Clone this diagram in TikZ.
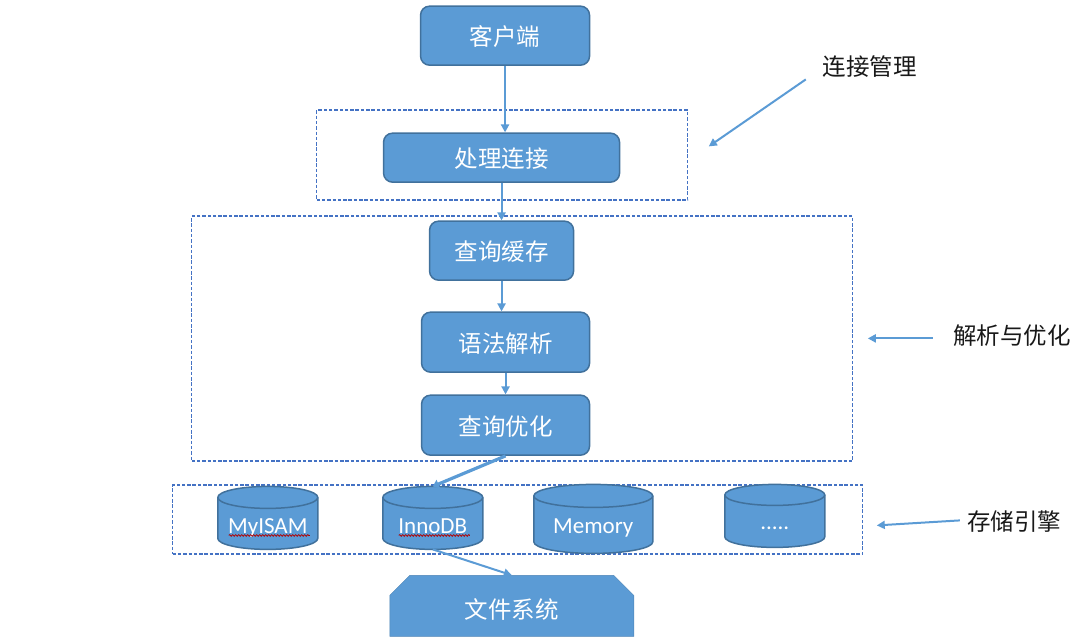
\documentclass[tikz,border=0pt]{standalone}
\usepackage{fontspec}
\setmainfont{Carlito}
\newfontfamily\cjk{Noto Sans CJK SC}
\usetikzlibrary{arrows.meta,shapes.misc,decorations.pathmorphing}
\definecolor{boxfill}{HTML}{5B9BD5}
\definecolor{boxedge}{HTML}{41719C}
\definecolor{dashblue}{HTML}{4472C4}
\tikzset{
  x=1pt,y=-1pt,
  stepbox/.style={rectangle,rounded corners=9pt,draw=boxedge,line width=1.5pt,fill=boxfill,
    text=white,font=\fontsize{23.5}{23.5}\selectfont\cjk,inner sep=0pt,anchor=north west,
    text height=23pt,text depth=3.1pt},
  groupbox/.style={rectangle,draw=dashblue,line width=1.6pt,dash pattern=on 3.5pt off 1.8pt,
    inner sep=0pt,anchor=north west},
  storeshape/.style={draw=boxedge,line width=1.5pt,fill=boxfill},
  storeslot/.style={rectangle,inner sep=0pt,outer sep=0pt,anchor=north},
  storetext/.style={text=white,font=\fontsize{23}{23}\selectfont,inner sep=0pt,anchor=base},
  disk/.style={chamfered rectangle,chamfered rectangle corners={north west,north east},
    chamfered rectangle xsep=10pt,chamfered rectangle ysep=10pt,draw=boxfill!85!black,fill=boxfill,
    text=white,font=\fontsize{23.5}{23.5}\selectfont\cjk,inner sep=0pt,anchor=center,
    minimum width=244pt,minimum height=61pt,text height=27.9pt,text depth=3pt},
  flow/.style={draw=boxfill,line width=2pt,-{Triangle[length=8pt,width=8pt]}},
  heavyflow/.style={flow,line width=3.2pt,-{Triangle[length=6pt,width=9pt]}},
  note/.style={font=\fontsize{23.5}{23.5}\selectfont\cjk,text=black!90,inner sep=0pt},
  squiggle/.style={draw=red!70!black,line width=0.8pt,decorate,
    decoration={snake,segment length=3pt,amplitude=0.8pt}}
}
% #1 name, #2 centre x, #3 top y, #4 width, #5 height, #6 lid half height, #7 text baseline y, #8 text
\newcommand{\storeunit}[8]{%
  \draw[storeshape] ({#2-#4/2},{#3+#6}) -- ++(0,{#5-2*#6})
    arc[start angle=180,end angle=360,x radius={#4/2*1pt},y radius={#6*1pt}]
    -- ++(0,{-(#5-2*#6)})
    arc[start angle=0,end angle=180,x radius={#4/2*1pt},y radius={#6*1pt}] -- cycle;
  \draw[storeshape,fill=none] ({#2-#4/2},{#3+#6})
    arc[start angle=180,end angle=360,x radius={#4/2*1pt},y radius={#6*1pt}];
  \node[storeslot,minimum width=#4pt,minimum height=#5pt] (#1) at (#2,#3) {};
  \node[storetext] (#1label) at (#2,#7) {#8};
}
\begin{document}
\begin{tikzpicture}
\useasboundingbox (0.2,0.6) rectangle (1080.2,638.6);

% dashed layer frames
\node[groupbox,minimum width=371pt,minimum height=90pt] (connlayer) at (316,110) {};
\node[groupbox,minimum width=661pt,minimum height=245pt] (parselayer) at (191,216) {};
\node[groupbox,minimum width=690pt,minimum height=69pt] (enginelayer) at (172,485) {};

% request path
\node[stepbox,minimum width=169pt,minimum height=59pt] (client) at (420,6) {客户端};
\node[stepbox,minimum width=236pt,minimum height=49pt] (conn) at (383,133) {处理连接};
\node[stepbox,minimum width=144pt,minimum height=59pt] (cache) at (429,221) {查询缓存};
\node[stepbox,minimum width=168pt,minimum height=60pt] (syntax) at (421,312) {语法解析};
\node[stepbox,minimum width=168pt,minimum height=60pt] (optim) at (421,395) {查询优化};

% storage engines
\storeunit{myisam}{268}{487}{100}{63}{11}{534}{MyISAM}
\storeunit{innodb}{433}{487}{100}{63}{11}{534}{InnoDB}
\storeunit{memory}{593.5}{485}{119}{69}{11.5}{534}{Memory}
\storeunit{other}{775}{485}{100}{63}{10.5}{530}{.....}

% spell-check underlines
\coordinate (myisamA) at (229,536);
\coordinate (myisamB) at (310,536);
\coordinate (innoA) at (399,536);
\coordinate (innoB) at (470,536);
\path[squiggle] (myisamA) -- (myisamB);
\path[squiggle] (innoA) -- (innoB);

% file system
\node[disk] (fs) at (512,606.5) {文件系统};

% flow between the stages
\draw[flow] (client.south) -- (client.south |- conn.north);
\draw[flow] (conn.south) -- (cache.north);
\draw[flow] (cache.south) -- (cache.south |- syntax.north);
\draw[flow] (syntax.south) -- (optim.north);
\draw[heavyflow] (optim.south) -- (innodb.north);
\draw[flow] (innodb.south) -- (fs.north);

% layer captions and their pointers
\node[note] (connnote) at (870,67.5) {连接管理};
\node[note] (parsenote) at (1012,336.5) {解析与优化};
\node[note] (enginenote) at (1014.5,522.5) {存储引擎};
\coordinate (connstart) at (806,80);
\coordinate (connend) at (709,147);
\coordinate (parsestart) at (933,339);
\coordinate (parseend) at (868,339);
\coordinate (enginestart) at (960,521);
\coordinate (engineend) at (877,526);
\draw[flow] (connstart) -- (connend);
\draw[flow] (parsestart) -- (parseend);
\draw[flow] (enginestart) -- (engineend);
\end{tikzpicture}
\end{document}
